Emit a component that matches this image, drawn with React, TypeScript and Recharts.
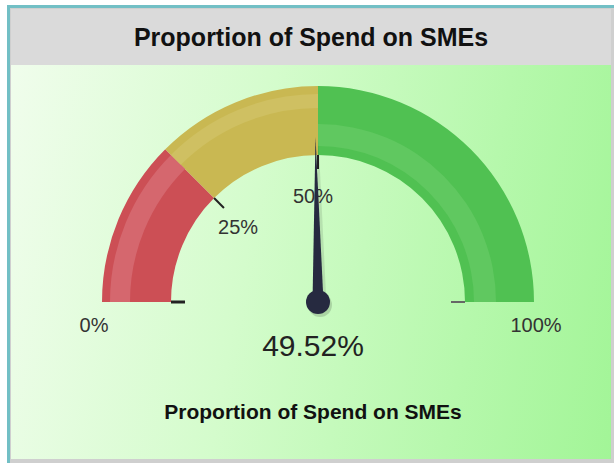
import { PieChart, Pie, Cell, Sector } from "recharts";

const title = "Proportion of Spend on SMEs";
const bandNames = ["low", "mid", "high"];
const bandFrom = [0, 25, 50];
const bandTo = [25, 50, 100];
const bandColors = ["#cc4f55", "#c9b852", "#50c152"];
const highlightColors = ["#d5676e", "#cfc062", "#60c860"];
// highlight stripe radii per band (inner, outer)
const highlightRadii = [
    [188, 208],
    [194, 208],
    [156, 178],
];
const gaugeValue = 49.52;
const gaugeMax = 100;

const bands = bandNames.map((name, i) => ({
    name,
    from: bandFrom[i],
    to: bandTo[i],
    value: bandTo[i] - bandFrom[i],
}));

const needleData = [
    { name: "value", value: gaugeValue },
    { name: "rest", value: gaugeMax - gaugeValue },
];

const RAD = Math.PI / 180;
const INNER = 147;
const OUTER = 216;
const CX = 313;
const CY = 297;

function polar(cx: number, cy: number, r: number, angle: number) {
    return { x: cx + r * Math.cos(-angle * RAD), y: cy + r * Math.sin(-angle * RAD) };
}

function tickLabel(cx: number, cy: number, angle: number, text: string, key: string) {
    const t1 = polar(cx, cy, INNER, angle);
    const t2 = polar(cx, cy, INNER - 14, angle);
    const isEnd = angle === 180 || angle === 0;
    const p = isEnd ? polar(cx, cy, 221, angle) : polar(cx, cy, 106, angle);
    return (
        <g key={key}>
            <line
                x1={t1.x}
                y1={t1.y}
                x2={t2.x}
                y2={t2.y}
                stroke={angle === 0 ? "#666" : "#222"}
                strokeWidth={angle === 180 ? 3 : 2}
            />
            <text
                x={isEnd ? p.x - 3 : p.x - 5}
                y={isEnd ? p.y + 23 : p.y}
                textAnchor="middle"
                dominantBaseline="central"
                fill="#333"
                fontSize={20}
                fontFamily="'Liberation Sans', Arial, sans-serif"
            >
                {text}
            </text>
        </g>
    );
}

function BandLabel(props: any) {
    const { cx, cy, startAngle, endAngle, index } = props;
    const [hi, ho] = highlightRadii[index];
    const b = bands[index];
    return (
        <g>
            <Sector
                cx={cx}
                cy={cy}
                innerRadius={hi}
                outerRadius={ho}
                startAngle={startAngle}
                endAngle={endAngle}
                fill={highlightColors[index]}
            />
            {tickLabel(cx, cy, startAngle, `${b.from}%`, "s")}
            {index === bands.length - 1 ? tickLabel(cx, cy, endAngle, `${b.to}%`, "e") : null}
        </g>
    );
}

function NeedleLabel(props: any) {
    const { cx, cy, endAngle, index } = props;
    if (index !== 0) return null;
    const tip = polar(cx, cy, 165, endAngle);
    const l = polar(cx, cy, 5.5, endAngle + 90);
    const r = polar(cx, cy, 5.5, endAngle - 90);
    const pts = `${l.x},${l.y} ${tip.x},${tip.y} ${r.x},${r.y}`;
    const shadow = `${l.x + 3},${l.y + 3} ${tip.x + 3},${tip.y + 3} ${r.x + 3},${r.y + 3}`;
    return (
        <g>
            <polygon points={shadow} fill="#000" opacity={0.1} />
            <circle cx={cx + 2} cy={cy + 3} r={12} fill="#000" opacity={0.15} />
            <polygon points={pts} fill="#262a40" />
            <circle cx={cx} cy={cy} r={12} fill="#262a40" />
        </g>
    );
}

export default function App() {
    return (
        <div
            style={{
                position: "fixed",
                left: 0,
                top: 0,
                width: 614,
                height: 463,
                background: "#ffffff",
                overflow: "hidden",
                fontFamily: "'Liberation Sans', Arial, sans-serif",
            }}
        >
            <div
                style={{
                    position: "absolute",
                    left: 7,
                    top: 5,
                    width: 607,
                    height: 458,
                    boxSizing: "border-box",
                    borderLeft: "3px solid #72bfc5",
                    borderTop: "3px solid #72bfc5",
                    background: "#cfcfcf",
                }}
            >
                <div
                    style={{
                        position: "absolute",
                        left: 1,
                        top: 1,
                        right: 3,
                        height: 56,
                        background: "#dadada",
                        display: "flex",
                        alignItems: "center",
                        justifyContent: "center",
                        fontWeight: "bold",
                        fontSize: 25,
                        color: "#111",
                    }}
                >
                    {title}
                </div>
                <div
                    style={{
                        position: "absolute",
                        left: 1,
                        top: 57,
                        right: 3,
                        bottom: 4,
                        background: "linear-gradient(100deg, #f0fdec 0%, #d4fccc 40%, #b6f8ac 75%, #a2f597 100%)",
                    }}
                />
            </div>
            <div style={{ position: "absolute", left: 0, top: 0 }}>
                <PieChart width={614} height={463}>
                    <Pie
                        data={bands}
                        dataKey="value"
                        cx={CX}
                        cy={CY}
                        startAngle={180}
                        endAngle={0}
                        innerRadius={INNER}
                        outerRadius={OUTER}
                        stroke="none"
                        label={BandLabel}
                        labelLine={false}
                        isAnimationActive={false}
                    >
                        {bands.map((b, i) => (
                            <Cell key={b.name} fill={bandColors[i]} />
                        ))}
                    </Pie>
                    <Pie
                        data={needleData}
                        dataKey="value"
                        cx={CX}
                        cy={CY}
                        startAngle={180}
                        endAngle={0}
                        innerRadius={0}
                        outerRadius={10}
                        fill="none"
                        stroke="none"
                        label={NeedleLabel}
                        labelLine={false}
                        isAnimationActive={false}
                    />
                </PieChart>
            </div>
            <div
                style={{
                    position: "absolute",
                    left: 0,
                    width: 626,
                    top: 329,
                    textAlign: "center",
                    fontSize: 30,
                    color: "#222",
                }}
            >
                {`${gaugeValue}%`}
            </div>
            <div
                style={{
                    position: "absolute",
                    left: 0,
                    width: 626,
                    top: 400,
                    textAlign: "center",
                    fontSize: 21,
                    fontWeight: "bold",
                    color: "#111",
                }}
            >
                {title}
            </div>
        </div>
    );
}
